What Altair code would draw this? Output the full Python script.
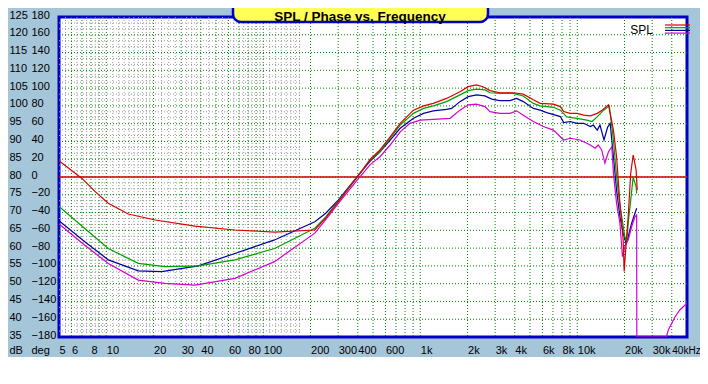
import altair as alt
import pandas as pd

# ---------------- data ----------------
red_f = [5, 7, 8.5, 10.3, 13.8, 20.5, 36.7, 66, 118, 213, 250, 300, 400, 480, 554, 643, 745, 905, 1050, 1210,
         1470, 1790, 2020, 2280, 2510, 2780, 3210, 3900, 4530, 5250, 5800, 7050, 7800, 8200, 9000, 9960, 11000,
         12100, 13400, 14400, 15800, 17000, 17800, 18300, 18700, 19200, 19600, 19900, 20400, 21100, 21900,
         22700, 23700, 24100]
red_db = [84.6, 79.6, 75.9, 72.6, 69.6, 67.9, 66.2, 65.1, 64.5, 65.1, 68.5, 73, 80.2, 85, 87.6, 91.3, 95.1, 98.8,
          100, 100.7, 102.1, 104, 105.4, 105.9, 105.4, 104.3, 103.7, 103.7, 103.3, 101.7, 100.7, 100.5, 99.8, 98.4,
          97.9, 97.9, 97.4, 97.2, 97.9, 98.8, 100.3, 93.2, 85.7, 78.2, 72.6, 67, 62.3, 53.4, 60.4, 68.8, 81, 86.2,
          82, 76.3]

green_f = [5, 7.3, 10.3, 16, 23.6, 38.6, 66, 118, 213, 250, 300, 400, 480, 554, 643, 745, 905, 1050, 1210, 1470,
           1790, 2020, 2280, 2580, 2780, 3210, 3900, 4530, 5250, 5800, 7050, 7800, 8570, 9960, 11500, 12400, 13400,
           14400, 16000, 17000, 17800, 18500, 19200, 20100, 20700, 21100, 21900, 22700, 23700, 23900]
green_db = [71.7, 65.5, 59.9, 55.7, 54.8, 55, 56.7, 59.9, 65.6, 68.8, 73.2, 80.2, 84.8, 87.1, 90.9, 94.6, 97.9,
            99.3, 100, 101.2, 103.1, 104.3, 104.7, 104.5, 103.7, 103.5, 103.5, 102.8, 100.7, 100, 99.6, 98.8, 96.9,
            96.5, 96, 95.6, 96.9, 98.4, 100, 90.4, 80.1, 73.5, 68.8, 63.2, 61.8, 67, 73.5, 79.9, 77.3, 75.4]

blue_f = [5, 7.3, 10.3, 16, 22.5, 38.6, 66, 118, 213, 250, 300, 400, 480, 554, 643, 745, 905, 1050, 1210, 1470,
          1585, 1790, 2020, 2280, 2580, 2850, 3210, 3730, 4110, 4530, 5250, 5800, 6390, 7800, 8200, 9000, 9960,
          11000, 12100, 12650, 13400, 13960, 14800, 15600, 16200, 17000, 17800, 18700, 19600, 20400, 21100,
          22200, 23300, 23900]
blue_db = [67.7, 61.8, 56.7, 53.6, 53.4, 55, 58.5, 62.3, 67.4, 69.8, 73.5, 80.3, 84.5, 87.1, 90.4, 93.7, 96.5,
           97.9, 98.6, 99, 99.3, 101.2, 102.6, 103.1, 102.8, 101.9, 101.5, 101.5, 102.1, 101.2, 99.3, 98.8, 98.1,
           97, 95.3, 95.6, 95.1, 95.1, 94.2, 94.6, 93.2, 94.6, 90.4, 94, 95.1, 85.7, 76.3, 68.8, 64.2, 61.4, 63.2,
           67, 69.8, 71.2]

magenta_f = [5, 7.3, 10.3, 16, 23.6, 36.7, 66, 118, 213, 250, 300, 400, 480, 554, 643, 745, 860, 1000, 1210,
             1550, 1790, 2020, 2280, 2580, 2780, 3210, 3730, 4110, 4530, 5250, 6080, 7050, 8200, 9000, 10400,
             11500, 12100, 13000, 13600, 14300, 15000, 15800, 16600, 17000, 17800, 18700, 19400, 20100, 21100,
             22200, 23300, 23900, 23950, 37000, 38000, 40000, 42000, 45000, 50000]
magenta_db = [66.8, 60.8, 55.7, 51, 50.1, 49.6, 51.5, 56.2, 64.2, 68, 72.5, 79.3, 83.5, 85.7, 89, 92.7, 95.1, 96,
              96.2, 96.5, 98.8, 100.3, 100.5, 99.8, 98.4, 97.9, 97.9, 98.6, 97.4, 95.6, 94.2, 93.2, 90.4, 90.9,
              90.4, 89.5, 89, 88.1, 89, 87.6, 83.9, 87.1, 88.5, 81, 72.6, 67, 57.6, 60.4, 62.3, 66, 68.8, 69.3,
              35, 35, 37, 38.9, 40.7, 42.6, 44.5]

reference_db = [80]

x_tick_values = [5, 6, 8, 10, 20, 30, 40, 60, 80, 100, 200, 300, 400, 600, 1000, 2000, 3000, 4000, 6000, 8000,
                 10000, 20000, 30000, 40000]
major_grid_f = [6, 7, 8, 9, 10, 20, 30, 40, 50, 60, 70, 80, 90, 100, 200, 300, 400, 500, 600, 700, 800, 900,
                1000, 2000, 3000, 4000, 5000, 6000, 7000, 8000, 9000, 10000, 20000, 30000, 40000]
minor_grid_f = [5.5, 6.5, 7.5, 8.5, 9.5, 11, 12, 13, 14, 15, 16, 17, 18, 19, 22.5, 25, 27.5, 32.5, 35, 37.5, 45,
                55, 65, 75, 85, 95, 110, 120, 130, 140, 150, 160, 170]
minor_grid_span = [5, 171]
db_ticks = [35, 40, 45, 50, 55, 60, 65, 70, 75, 80, 85, 90, 95, 100, 105, 110, 115, 120, 125]
deg_ticks = [-180, -160, -140, -120, -100, -80, -60, -40, -20, 0, 20, 40, 60, 80, 100, 120, 140, 160, 180]
major_grid_db = db_ticks[1:-1]
minor_grid_db = [round(d + k * 5 / 3, 2) for d in db_ticks[:-1] for k in (1, 2)]

series = ["red", "green", "blue", "magenta"]
colors = {"red": "#d80000", "green": "#00a000", "blue": "#0000a0", "magenta": "#d400d4"}
curves = {"red": (red_f, red_db), "green": (green_f, green_db),
          "blue": (blue_f, blue_db), "magenta": (magenta_f, magenta_db)}

# ---------------- encodings ----------------
FONT = "Liberation Sans"
x_scale = alt.Scale(type="log", domain=[5, 50000], nice=False)
y_scale = alt.Scale(domain=[35, 125], nice=False, zero=False)
deg_scale = alt.Scale(domain=[-180, 180], nice=False, zero=False)

x_axis = alt.Axis(values=x_tick_values, orient="bottom", grid=False, domain=False, ticks=False, tickSize=0,
                  labelAlign="left", labelBaseline="middle", labelPadding=13, labelFlush=False,
                  labelOverlap=False, labelBound=False, title=None,
                  labelFontSize={"condition": {"test": "datum.value == 40000", "value": 10}, "value": 11},
                  labelExpr="datum.value == 40000 ? '40kHz' : (datum.value >= 1000 ? (datum.value/1000) + 'k' : '' + datum.value)")
y_axis = alt.Axis(values=db_ticks, orient="left", grid=False, domain=False, ticks=False, tickSize=0,
                  labelAlign="left", labelBaseline="middle", labelPadding=50, labelOffset=-2,
                  labelFlush=False, labelOverlap=False, title="dB", titleAngle=0, titleX=-50, titleY=333,
                  titleAlign="left", titleBaseline="middle", titleFontWeight="normal", titleFontSize=11,
                  titleFont=FONT, titleColor="black")
deg_axis = alt.Axis(values=deg_ticks, orient="left", grid=False, domain=False, ticks=False, tickSize=0,
                    labelAlign="left", labelBaseline="middle", labelPadding=28, labelOffset=-2,
                    labelFlush=False, labelOverlap=False, title="deg", titleAngle=0, titleX=-28, titleY=333,
                    titleAlign="left", titleBaseline="middle", titleFontWeight="normal", titleFontSize=11,
                    titleFont=FONT, titleColor="black")


def X(field):
    return alt.X(field, type="quantitative", scale=x_scale, axis=x_axis)


def Y(field):
    return alt.Y(field, type="quantitative", scale=y_scale, axis=y_axis)


layers = []

# minor grey grid (left region)
layers.append(alt.Chart(pd.DataFrame({"f": minor_grid_f})).mark_rule(
    color="#9a9a9a", strokeWidth=1, strokeDash=[1, 2]).encode(x=X("f")))
layers.append(alt.Chart(pd.DataFrame({"db": minor_grid_db, "x0": minor_grid_span[0], "x1": minor_grid_span[1]}))
              .mark_rule(color="#9a9a9a", strokeWidth=1, strokeDash=[1, 2])
              .encode(y=Y("db"), x=X("x0"), x2="x1:Q"))

# major green grid
layers.append(alt.Chart(pd.DataFrame({"f": major_grid_f})).mark_rule(
    color="#008000", strokeWidth=1, strokeDash=[1, 2]).encode(x=X("f")))
layers.append(alt.Chart(pd.DataFrame({"db": major_grid_db})).mark_rule(
    color="#008000", strokeWidth=1, strokeDash=[1, 2]).encode(y=Y("db")))

# red reference line (0 deg / 80 dB)
layers.append(alt.Chart(pd.DataFrame({"db": reference_db})).mark_rule(
    color=colors["red"], strokeWidth=1.3).encode(y=Y("db")))

# curves
for name in ["blue", "magenta", "green", "red"]:
    fs, dbs = curves[name]
    df = pd.DataFrame({"f": fs, "db": dbs})
    layers.append(alt.Chart(df).mark_line(color=colors[name], strokeWidth=1.2, clip=True)
                  .encode(x=X("f"), y=Y("db"), order=alt.Order("f:Q")))

# title box and title
one = pd.DataFrame({"k": [0]})
layers.append(alt.Chart(one).mark_rect(fill="#ffff55", stroke="#0000c8", strokeWidth=2.5, cornerRadius=8)
              .encode(x=alt.value(174), x2=alt.value(429), y=alt.value(-16), y2=alt.value(5)))
layers.append(alt.Chart(one).mark_text(text="SPL / Phase vs. Frequency", font=FONT, fontSize=13.5,
                                       fontWeight="bold", color="black", align="center", baseline="middle")
              .encode(x=alt.value(301), y=alt.value(-0.5)))

# legend
layers.append(alt.Chart(one).mark_text(text="SPL", font=FONT, fontSize=12, color="black", align="right",
                                       baseline="middle").encode(x=alt.value(594), y=alt.value(13)))
for i, name in enumerate(series):
    layers.append(alt.Chart(one).mark_rule(color=colors[name], strokeWidth=1.2)
                  .encode(x=alt.value(606), x2=alt.value(631), y=alt.value(8 + i * 2.7)))

db_layer = alt.layer(*layers)

deg_layer = alt.Chart(pd.DataFrame({"deg": deg_ticks})).mark_point(opacity=0).encode(
    y=alt.Y("deg", type="quantitative", scale=deg_scale, axis=deg_axis))

chart = (
    alt.layer(db_layer, deg_layer)
    .resolve_scale(y="independent")
    .properties(width=628, height=320, background="#a5c5d9",
                padding={"left": 51, "top": 9, "right": 13, "bottom": 20},
                autosize=alt.AutoSizeParams(type="none"))
    .configure_view(stroke="#0000c8", strokeWidth=3, fill="white")
    .configure_axis(labelFont=FONT, labelFontSize=11, labelColor="black")
)

chart.save("out.html", embed_options={"renderer": "svg", "actions": False})
